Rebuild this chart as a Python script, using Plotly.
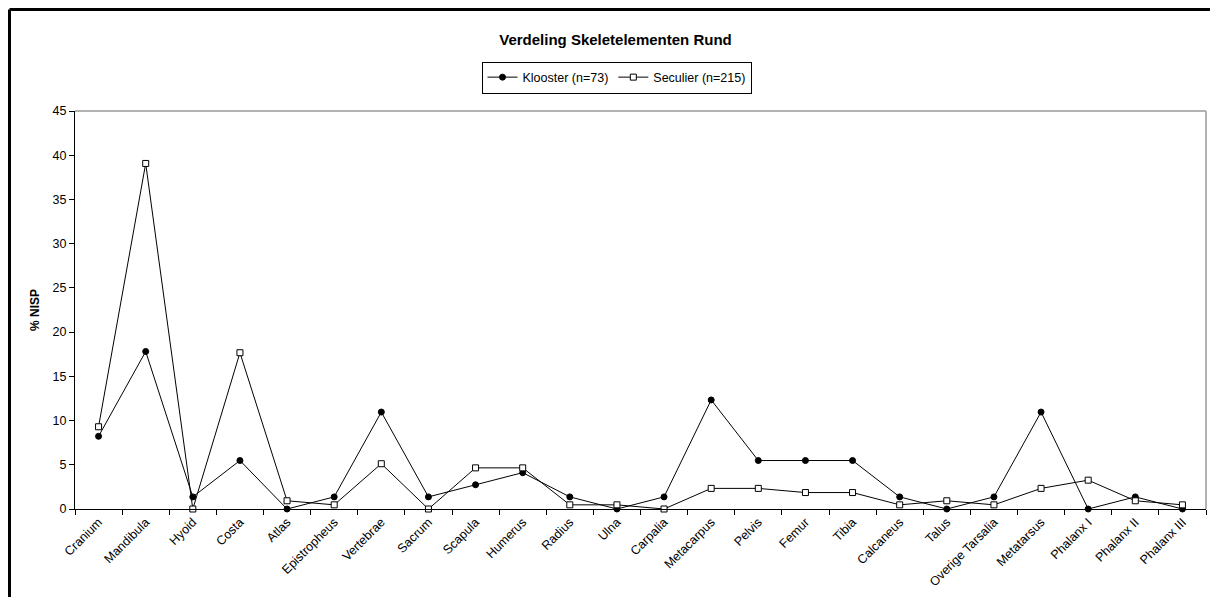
import plotly.graph_objects as go

categories = ["Cranium", "Mandibula", "Hyoid", "Costa", "Atlas", "Epistropheus", "Vertebrae",
              "Sacrum", "Scapula", "Humerus", "Radius", "Ulna", "Carpalia", "Metacarpus",
              "Pelvis", "Femur", "Tibia", "Calcaneus", "Talus", "Overige Tarsalia",
              "Metatarsus", "Phalanx I", "Phalanx II", "Phalanx III"]

klooster = [8.22, 17.81, 1.37, 5.48, 0.0, 1.37, 10.96, 1.37, 2.74, 4.11, 1.37, 0.0,
            1.37, 12.33, 5.48, 5.48, 5.48, 1.37, 0.0, 1.37, 10.96, 0.0, 1.37, 0.0]

seculier = [9.30, 39.07, 0.0, 17.67, 0.93, 0.47, 5.12, 0.0, 4.65, 4.65, 0.47, 0.47,
            0.0, 2.33, 2.33, 1.86, 1.86, 0.47, 0.93, 0.47, 2.33, 3.26, 0.93, 0.47]

y_ticks = [0, 5, 10, 15, 20, 25, 30, 35, 40, 45]

font_family = "Liberation Sans, Arial, sans-serif"

W, H = 1210, 589
ML, MR, MT, MB = 67, 12, 103, 88
PW = W - ML - MR
PH = H - MT - MB

fig = go.Figure()
fig.add_trace(go.Scatter(
    x=categories, y=klooster, name="Klooster (n=73)", mode="lines+markers",
    line=dict(color="black", width=1), cliponaxis=False,
    marker=dict(symbol="circle", size=6, color="black", line=dict(color="black", width=1)),
))
fig.add_trace(go.Scatter(
    x=categories, y=seculier, name="Seculier (n=215)", mode="lines+markers",
    line=dict(color="black", width=1), cliponaxis=False,
    marker=dict(symbol="square", size=6, color="white", line=dict(color="black", width=1)),
))

fig.update_layout(
    width=W, height=H,
    margin=dict(l=ML, r=MR, t=MT, b=MB, autoexpand=False),
    paper_bgcolor="white", plot_bgcolor="white",
    font=dict(family=font_family, size=12, color="black"),
    title=dict(text="<b>Verdeling Skeletelementen Rund</b>", x=607.5 / W, xanchor="center",
               y=1 - 32 / H, yanchor="middle", font=dict(size=15, color="black")),
    showlegend=True,
    legend=dict(orientation="h", x=(608.5 - ML) / PW, xanchor="center",
                y=1 + (MT - 69.5) / PH, yanchor="middle",
                bordercolor="black", borderwidth=1, bgcolor="white",
                font=dict(size=12.5), itemwidth=30, tracegroupgap=0),
    xaxis=dict(type="category", tickangle=-45, showgrid=False, zeroline=False,
               showline=True, linecolor="black", linewidth=1, automargin=False,
               ticks="outside", tickson="boundaries", ticklen=5, tickcolor="black",
               tickfont=dict(size=12.5), range=[-0.5, len(categories) - 0.5]),
    yaxis=dict(range=[0, 45], tickvals=y_ticks, showgrid=False, zeroline=False,
               showline=True, linecolor="black", linewidth=1, automargin=False,
               ticks="outside", ticklen=5, tickcolor="black", tickfont=dict(size=12.5),
               title=dict(text="<b>% NISP</b>", font=dict(size=12), standoff=10)),
    shapes=[
        # grey plot-area frame (top and right)
        dict(type="line", xref="paper", yref="paper", x0=0, x1=1, y0=1, y1=1,
             line=dict(color="#999999", width=1.5)),
        dict(type="line", xref="paper", yref="paper", x0=1, x1=1, y0=0, y1=1,
             line=dict(color="#999999", width=1.5)),
        # outer chart border: left and top edges only
        dict(type="line", xref="paper", yref="paper",
             x0=-(ML - 1.5) / PW, x1=-(ML - 1.5) / PW, y0=-0.4, y1=1 + (MT - 1.5) / PH,
             line=dict(color="black", width=3), layer="above"),
        dict(type="line", xref="paper", yref="paper",
             x0=-(ML - 1.5) / PW, x1=1 + 60 / PW, y0=1 + (MT - 1.5) / PH, y1=1 + (MT - 1.5) / PH,
             line=dict(color="black", width=3), layer="above"),
    ],
)

fig.write_html("out.html")
